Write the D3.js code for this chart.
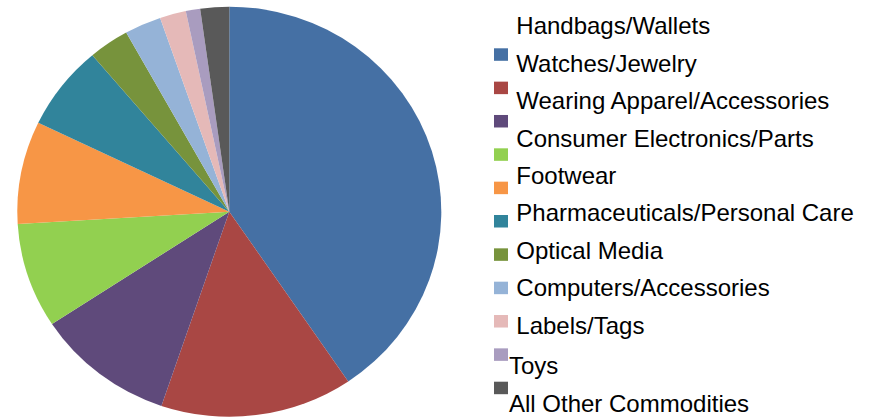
<!DOCTYPE html>
<html>
<head>
<meta charset="utf-8">
<script src="https://cdn.jsdelivr.net/npm/d3@7"></script>
<style>
    html, body { margin: 0; padding: 0; background: #fff; }
    svg { display: block; }
    .legend text { font-family: "Liberation Sans", Arial, sans-serif; font-size: 24px; fill: #000; }
</style>
</head>
<body>
<svg id="chart" width="872" height="418"></svg>
<script>
/* globals d3 */
"use strict";

// Chart data (share of seizures, percent)

var categories = [
    "Handbags/Wallets",
    "Watches/Jewelry",
    "Wearing Apparel/Accessories",
    "Consumer Electronics/Parts",
    "Footwear",
    "Pharmaceuticals/Personal Care",
    "Optical Media",
    "Computers/Accessories",
    "Labels/Tags",
    "Toys",
    "All Other Commodities"
];

var shares = [40.6, 14.7, 10.6, 8.3, 8.1, 6.7, 3.1, 2.8, 2.0, 1.1, 2.2];

var colors = [
    "#4570A4", "#A94744", "#5F4A7B", "#92D050", "#F79646", "#31849B",
    "#77933C", "#95B3D7", "#E5B9B8", "#A99CBF", "#595959"
];

// Layout

var svg = d3.select("#chart"),
    cx = 229.3,
    cy = 211.7,
    rx = 212,   // the pie is a bit wider than it is tall
    ry = 205;

var slices = d3.pie()
    .sort(null)
    .value(function (d) { return d; })(shares);

var arc = d3.arc()
    .innerRadius(0)
    .outerRadius(ry);

var color = d3.scaleOrdinal()
    .domain(categories)
    .range(colors);

svg.append("g")
    .attr("transform", "translate(" + cx + "," + cy + ") scale(" + (rx / ry) + ",1)")
    .selectAll("path")
    .data(slices)
    .enter().append("path")
    .attr("d", arc)
    .attr("fill", function (d, i) { return color(categories[i]); });

// Legend - swatches and labels don't line up (kept as in the original)

var swatchY = d3.scaleLinear().domain([0, 10]).range([48.3, 381.7]),
    labelY = d3.scaleLinear().domain([0, 8]).range([34.3, 333.5]);

var legend = svg.append("g").attr("class", "legend");

legend.selectAll("rect")
    .data(categories)
    .enter().append("rect")
    .attr("x", 494)
    .attr("y", function (d, i) { return swatchY(i); })
    .attr("width", 14)
    .attr("height", 12.5)
    .attr("fill", function (d) { return color(d); });

legend.selectAll("text")
    .data(categories)
    .enter().append("text")
    .attr("x", function (d, i) { return i >= 9 ? 509 : 516.3; })
    .attr("y", function (d, i) { return i >= 9 ? labelY(i) + 3.4 : labelY(i); })
    .text(function (d) { return d; });
</script>
</body>
</html>
